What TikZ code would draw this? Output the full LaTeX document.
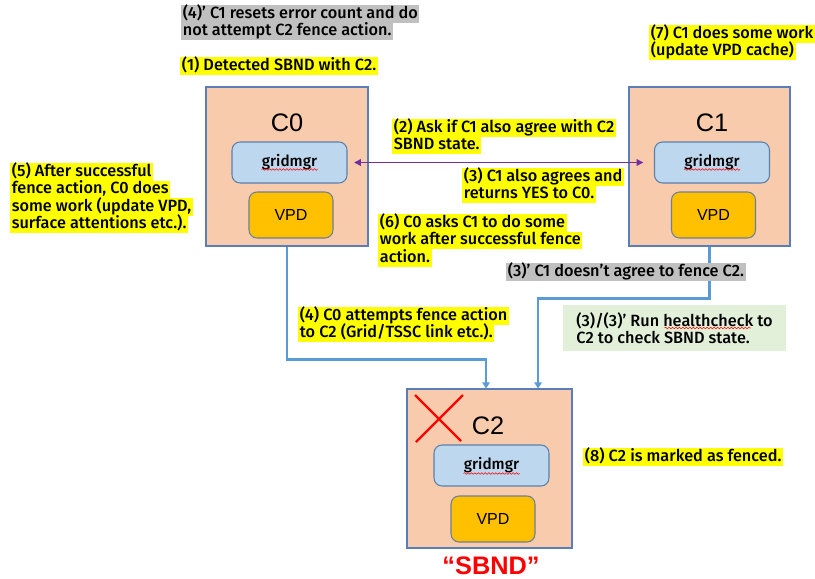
\documentclass[tikz,border=0pt]{standalone}
\usepackage{fontspec}
\setmainfont{Fira Sans Medium}
\newfontfamily\arialf{Liberation Sans}
\usetikzlibrary{arrows.meta,calc,decorations.pathmorphing}
\definecolor{peach}{HTML}{F8CBAD}
\definecolor{hostline}{HTML}{5B7DB8}
\definecolor{gridfill}{HTML}{BDD7EE}
\definecolor{gridline}{HTML}{5A80AE}
\definecolor{vpdfill}{HTML}{FFC000}
\definecolor{vpdline}{HTML}{6F7F95}
\definecolor{connblue}{HTML}{5B9BD5}
\definecolor{purp}{HTML}{7030A0}
\definecolor{hlyellow}{HTML}{FFFF00}
\definecolor{hlgrey}{HTML}{C0C0C0}
\definecolor{notegreen}{HTML}{E2F0D9}
\definecolor{sbndred}{HTML}{FF0000}
\newcommand{\lblfont}{\fontsize{12.2}{13.1}\selectfont}
\begin{document}
\begin{tikzpicture}[x=0.75pt,y=-0.75pt,
  host/.style={draw=hostline, line width=0.8pt, fill=peach, minimum width=121.5pt, minimum height=119.25pt, inner sep=0pt},
  hostlbl/.style={font=\arialf\fontsize{19}{21}\selectfont, inner sep=0pt},
  grid/.style={draw=gridline, line width=0.8pt, fill=gridfill, rounded corners=6pt, minimum width=86.25pt, minimum height=30.75pt, inner sep=0pt, font=\fontsize{11.5}{13}\selectfont},
  vpd/.style={draw=vpdline, line width=0.8pt, fill=vpdfill, rounded corners=6pt, minimum width=63pt, minimum height=34.5pt, inner sep=0pt, font=\arialf\fontsize{12}{14}\selectfont},
  hl/.style={fill=hlyellow, inner xsep=1.2pt, inner ysep=0pt, text height=9.9pt, text depth=3.2pt, anchor=north west, font=\lblfont},
  hlg/.style={hl, fill=hlgrey},
  conn/.style={draw=connblue, line width=1.7pt, -{Triangle[width=5.5pt,length=4.5pt]}},
  twoway/.style={draw=purp, line width=0.9pt, {Triangle[width=5pt,length=5pt]}-{Triangle[width=5pt,length=5pt]}},
  wave/.style={draw=red, line width=0.4pt, decorate, decoration={snake, amplitude=0.6pt, segment length=2.6pt}},
  cross/.style={draw=red, line width=1.8pt}
]
\useasboundingbox (0,0) rectangle (815,579);

% hosts with their gridmgr and VPD parts
\node[host] (c0) at (287,166.5) {};
\node[hostlbl] (c0l) at (287,123) {C0};
\node[grid] (g0) at (289.5,162.5) {gridmgr};
\node[vpd] (v0) at (291,215) {VPD};
\draw[wave] ($(g0.center)+(-28,7)$) -- ++(56,0);

\node[host, minimum width=120.75pt] (c1) at (709.5,166.5) {};
\node[hostlbl] (c1l) at (712,123) {C1};
\node[grid] (g1) at (712,162.5) {gridmgr};
\node[vpd] (v1) at (713.5,215) {VPD};
\draw[wave] ($(g1.center)+(-28,7)$) -- ++(56,0);

\node[host, minimum width=123.75pt] (c2) at (489.5,468.5) {};
\node[hostlbl] (c2l) at (488,426) {C2};
\node[grid] (g2) at (491.5,465.5) {gridmgr};
\node[vpd] (v2) at (493,519) {VPD};
\draw[wave] ($(g2.center)+(-28,8)$) -- ++(56,0);
\draw[cross] (415,395) -- (461,441);
\draw[cross] (463,395) -- (416,442);
\node[font=\arialf\bfseries\fontsize{19}{22}\selectfont, text=sbndred, inner sep=0pt] (sb) at (491,566) {“SBND”};

% connectors
\draw[twoway] ([xshift=5pt]g0.east) -- ([xshift=-8pt]g1.west);
\draw[conn] (c0.south) -- ++(0,113) -| ([xshift=-2.6pt]c2.north);
\draw[conn] (c1.south) -- ++(0,52) -| ([xshift=36.4pt]c2.north);

% step notes
\node[hlg] (n4pa) at (181,5) {(4)’ C1 resets error count and do};
\node[hlg] (n4pb) at (181,22.5) {not attempt C2 fence action.};
\node[hl] (n1) at (180,57) {(1) Detected SBND with C2.};
\node[hl] (n7a) at (649,25) {(7) C1 does some work};
\node[hl] (n7b) at (649,42.5) {(update VPD cache)};
\node[hl] (n2a) at (392,119) {(2) Ask if C1 also agree with C2};
\node[hl] (n2b) at (392,136.5) {SBND state.};
\node[hl] (n3a) at (462,168) {(3) C1 also agrees and};
\node[hl] (n3b) at (462,185.5) {returns YES to C0.};
\node[hl] (n6a) at (378,214) {(6) C0 asks C1 to do some};
\node[hl] (n6b) at (378,231.5) {work after successful fence};
\node[hl] (n6c) at (378,249) {action.};
\node[hl] (n5a) at (10,163) {(5) After successful};
\node[hl] (n5b) at (10,180.5) {fence action, C0 does};
\node[hl] (n5c) at (10,198) {some work (update VPD,};
\node[hl] (n5d) at (10,215.5) {surface attentions etc.).};
\node[hlg] (n3p) at (506,263) {(3)’ C1 doesn’t agree to fence C2.};
\node[hl] (n4a) at (298,307) {(4) C0 attempts fence action};
\node[hl] (n4b) at (298,324.5) {to C2 (Grid/TSSC link etc.).};
\node[fill=notegreen, minimum width=167.25pt, minimum height=34.5pt, align=left, font=\lblfont] (hc) at (674.5,328) {(3)/(3)’ Run healthcheck to\\C2 to check SBND state.};
\draw[wave] ($(hc.center)+(-10,0)$) -- ++(86,0);
\node[hl] (n8) at (583,448) {(8) C2 is marked as fenced.};
\end{tikzpicture}
\end{document}
